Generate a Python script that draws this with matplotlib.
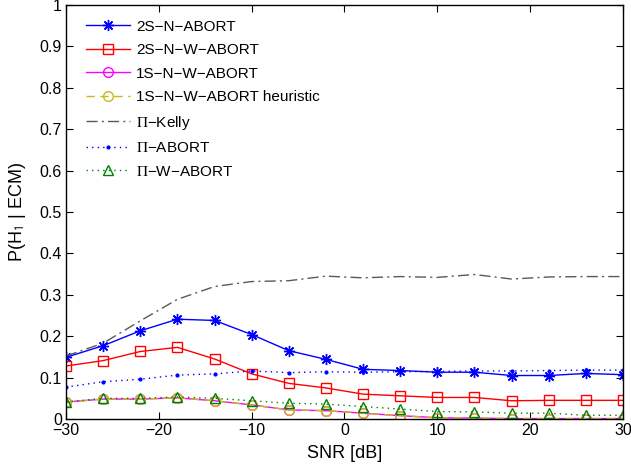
import numpy as np
import matplotlib
matplotlib.use("Agg")
import matplotlib.pyplot as plt

plt.rcParams['font.family'] = ['Liberation Sans', 'DejaVu Sans']
plt.rcParams['mathtext.fontset'] = 'stix'

snr = [-30, -26, -22, -18, -14, -10, -6, -2, 2, 6, 10, 14, 18, 22, 26, 30]

two_s_n_abort = [0.149, 0.177, 0.213, 0.241, 0.238, 0.204, 0.165, 0.144,
                 0.120, 0.117, 0.113, 0.113, 0.105, 0.105, 0.110, 0.107]
two_s_n_w_abort = [0.128, 0.141, 0.163, 0.173, 0.145, 0.109, 0.086, 0.075,
                   0.060, 0.056, 0.052, 0.052, 0.044, 0.045, 0.045, 0.045]
one_s_n_w_abort = [0.041, 0.048, 0.048, 0.051, 0.044, 0.034, 0.022, 0.020,
                   0.014, 0.008, 0.003, 0.002, 0.001, 0.001, 0.001, 0.001]
one_s_heuristic = [0.041, 0.048, 0.048, 0.051, 0.044, 0.034, 0.022, 0.020,
                   0.014, 0.008, 0.003, 0.002, 0.001, 0.001, 0.001, 0.001]
pi_kelly = [0.152, 0.183, 0.237, 0.289, 0.320, 0.332, 0.334, 0.345,
            0.341, 0.344, 0.342, 0.349, 0.338, 0.343, 0.344, 0.344]
pi_abort = [0.077, 0.090, 0.096, 0.106, 0.109, 0.116, 0.112, 0.114,
            0.113, 0.114, 0.115, 0.116, 0.116, 0.117, 0.118, 0.118]
pi_w_abort = [0.041, 0.050, 0.050, 0.053, 0.050, 0.044, 0.038, 0.036,
              0.030, 0.024, 0.018, 0.017, 0.014, 0.014, 0.009, 0.009]

M = '\u2212'
labels = ['2S' + M + 'N' + M + 'ABORT',
          '2S' + M + 'N' + M + 'W' + M + 'ABORT',
          '1S' + M + 'N' + M + 'W' + M + 'ABORT',
          '1S' + M + 'N' + M + 'W' + M + 'ABORT heuristic',
          r'$\Pi$' + M + 'Kelly',
          r'$\Pi$' + M + 'ABORT',
          r'$\Pi$' + M + 'W' + M + 'ABORT']

fig = plt.figure(figsize=(6.31, 4.66), dpi=100)
ax = fig.add_axes([0.1046, 0.1009, 0.8827, 0.8884])

# matlab style asterisk: plus and cross on top of each other
ax.plot(snr, two_s_n_abort, color='#0000ff', lw=1, marker=(8, 2, 0), ms=8, mew=1, label=labels[0])
ax.plot(snr, two_s_n_w_abort, color='#ff0000', lw=1, marker='s', ms=7, mfc='none', label=labels[1])
ax.plot(snr, one_s_n_w_abort, color='#ff00ff', lw=1, marker='o', ms=7, mfc='none', label=labels[2])
ax.plot(snr, one_s_heuristic, color='#c9b81a', lw=1, ls=(0, (6, 4)), marker='o', ms=7, mfc='none', label=labels[3])
ax.plot(snr, pi_kelly, color='0.35', lw=1, ls=(0, (8, 3, 1.5, 3)), label=labels[4])
ax.plot(snr, pi_abort, color='#0000ff', lw=1, ls=(0, (1, 3)), marker='.', ms=4, label=labels[5])
ax.plot(snr, pi_w_abort, color='#008000', lw=1, ls=(0, (1, 3)), marker='^', ms=7, mfc='none', label=labels[6])

ax.set_xlim(-30, 30)
ax.set_ylim(0, 1)
ax.set_xticks([-30, -20, -10, 0, 10, 20, 30])
ax.set_xticklabels([M + '30', M + '20', M + '10', '0', '10', '20', '30'])
ax.set_yticks(np.arange(0, 1.01, 0.1))
ax.set_yticklabels(['0', '0.1', '0.2', '0.3', '0.4', '0.5', '0.6', '0.7', '0.8', '0.9', '1'])
ax.tick_params(direction='in', top=True, right=True, labelsize=11.5, length=5, pad=3)
for s in ax.spines.values():
    s.set_linewidth(1)

ax.set_xlabel('SNR [dB]', fontsize=13, labelpad=5)
ax.set_ylabel(r'P(H$_\mathsf{1}$ | ECM)', fontsize=13, labelpad=8)

ax.legend(loc='upper left', frameon=False, fontsize=11, handlelength=2.9, handletextpad=0.35,
          labelspacing=0.62, borderaxespad=0.3, bbox_to_anchor=(0.017, 0.99))

fig.savefig('out.png', dpi=100)
